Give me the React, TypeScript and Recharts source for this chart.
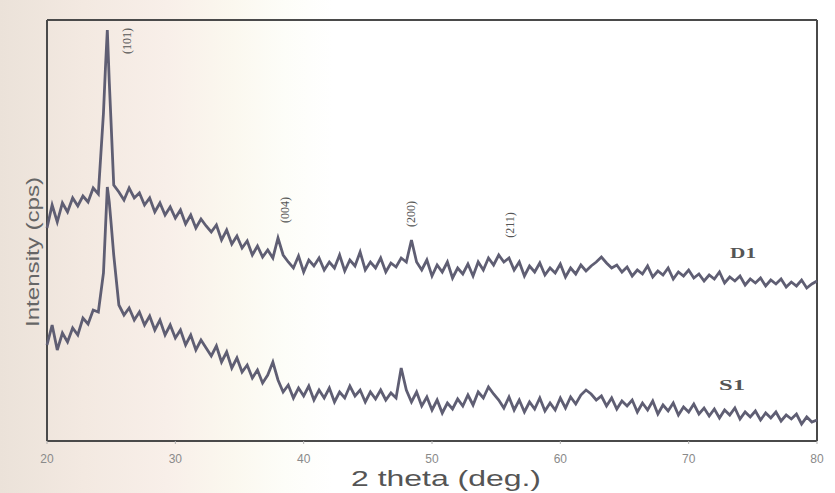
import React from 'react';
import { LineChart, Line, XAxis, YAxis, ReferenceDot, ReferenceLine, Label } from 'recharts';

// 2 theta angles (deg.)
const ANGLES = [
  20.0, 20.4, 20.8, 21.2, 21.6, 22.0, 22.4, 22.8, 23.2, 23.6, 24.0, 24.4,
  24.55, 24.7, 24.85, 25.0, 25.2,
  25.6, 26.0, 26.4, 26.8, 27.2, 27.6, 28.0, 28.4, 28.8, 29.2, 29.6,
  30.0, 30.4, 30.8, 31.2, 31.6, 32.0, 32.4, 32.8, 33.2, 33.6, 34.0, 34.4, 34.8, 35.2, 35.6, 36.0, 36.4, 36.8, 37.2, 37.6, 38.0, 38.4, 38.8, 39.2, 39.6,
  40.0, 40.4, 40.8, 41.2, 41.6, 42.0, 42.4, 42.8, 43.2, 43.6, 44.0, 44.4, 44.8, 45.2, 45.6, 46.0, 46.4, 46.8, 47.2, 47.6, 48.0, 48.4, 48.8, 49.2, 49.6,
  50.0, 50.4, 50.8, 51.2, 51.6, 52.0, 52.4, 52.8, 53.2, 53.6, 54.0, 54.4, 54.8, 55.2, 55.6, 56.0, 56.4, 56.8, 57.2, 57.6, 58.0, 58.4, 58.8, 59.2, 59.6,
  60.0, 60.4, 60.8, 61.2, 61.6, 62.0, 62.4, 62.8, 63.2, 63.6, 64.0, 64.4, 64.8, 65.2, 65.6, 66.0, 66.4, 66.8, 67.2, 67.6, 68.0, 68.4, 68.8, 69.2, 69.6,
  70.0, 70.4, 70.8, 71.2, 71.6, 72.0, 72.4, 72.8, 73.2, 73.6, 74.0, 74.4, 74.8, 75.2, 75.6, 76.0, 76.4, 76.8, 77.2, 77.6, 78.0, 78.4, 78.8, 79.2, 79.6,
  80.0,
];

// Intensity (cps), sample D1
const D1 = [
  213, 236, 219, 238, 229, 243, 235, 245, 239, 253, 247, 328,
  372, 411, 360, 316, 256,
  249, 241, 253, 243, 248, 236, 243, 229, 238, 226, 234,
  223, 231, 217, 226, 213, 222, 215, 209, 216, 201, 211, 197, 205, 193, 200, 186, 195, 184, 191, 183, 203, 186, 179, 173, 185,
  169, 181, 175, 183, 171, 179, 173, 186, 170, 181, 175, 189, 171, 179, 173, 183, 169, 178, 174, 183, 179, 201, 179, 171, 181,
  165, 176, 169, 179, 163, 173, 167, 177, 165, 179, 171, 183, 176, 186, 179, 183, 171, 179, 165, 175, 169, 178, 166, 173, 168,
  177, 164, 173, 167, 176, 170, 175, 179, 184, 178, 173, 176, 169, 174, 165, 171, 167, 175, 164, 170, 166, 173, 162, 169, 165,
  171, 163, 167, 160, 166, 162, 169, 158, 164, 160, 165, 156, 162, 158, 163, 155, 161, 157, 162, 154, 159, 155, 161, 153, 157,
  160,
];

// Intensity (cps), sample S1
const S1 = [
  96, 116, 91, 108, 99, 113, 106, 123, 117, 131, 129, 168,
  211, 254, 239, 217, 186,
  136, 126, 133, 121, 129, 116, 125, 111, 121, 106, 116,
  103, 111, 96, 106, 91, 101, 93, 85, 95, 79, 89, 73, 83, 69, 76, 63, 71, 58, 66, 79, 61, 49, 56, 43, 53,
  45, 55, 41, 51, 43, 53, 39, 49, 43, 55, 45, 51, 39, 49, 42, 51, 41, 48, 43, 73, 51, 39, 49, 35, 44,
  31, 41, 28, 38, 32, 42, 35, 46, 36, 49, 43, 54, 47, 41, 33, 44, 31, 41, 29, 39, 32, 43, 30, 38, 31,
  43, 33, 44, 37, 46, 51, 47, 41, 45, 35, 43, 32, 40, 35, 41, 29, 38, 31, 40, 27, 36, 30, 38, 26, 34,
  29, 37, 27, 33, 25, 32, 23, 31, 26, 33, 22, 29, 24, 30, 21, 28, 23, 29, 20, 26, 22, 27, 17, 24, 19,
  21,
];

const X_TICKS = [20, 30, 40, 50, 60, 70, 80];
const X_DOMAIN = [20, 80];
const Y_DOMAIN = [0, 421];

const PEAK_NAMES = ['(101)', '(004)', '(200)', '(211)'];
const PEAK_X = [26.2, 38.55, 48.36, 56.08];
const PEAK_Y = [400, 231, 227, 216];

const SAMPLE_NAMES = ['D1', 'S1'];
const SAMPLE_X = [74.24, 73.38];
const SAMPLE_Y = [188, 56];

const Y_TITLE = 'Intensity (cps)';
const Y_TITLE_POS = { x: 19.4, y: 189 };

const data = ANGLES.map((x, i) => ({ x, d1: D1[i], s1: S1[i] }));

const LINE_COLOR = '#5f5e73';
const FRAME = '#4a4a4a';

const peakShape = (text: string) => (p: any) => (
  <text
    x={p.cx}
    y={p.cy}
    transform={`rotate(-90 ${p.cx} ${p.cy})`}
    textAnchor="middle"
    dominantBaseline="central"
    fontFamily="'Liberation Serif', serif"
    fontSize={12}
    fill="#555"
  >
    {text}
  </text>
);

const sampleShape = (text: string) => (p: any) => (
  <text
    x={p.cx}
    y={p.cy}
    textAnchor="middle"
    dominantBaseline="central"
    fontFamily="'Liberation Serif', serif"
    fontSize={15}
    fontWeight="bold"
    fill="#555"
    textLength={26}
    lengthAdjust="spacingAndGlyphs"
  >
    {text}
  </text>
);

const yTitleShape = (p: any) => (
  <text
    x={p.cx}
    y={p.cy}
    transform={`rotate(-90 ${p.cx} ${p.cy})`}
    textAnchor="middle"
    fontFamily="'Liberation Sans', Arial, sans-serif"
    fontSize={19}
    fill="#666"
    textLength={150}
    lengthAdjust="spacingAndGlyphs"
  >
    {Y_TITLE}
  </text>
);

const XLabel = (props: any) => {
  const vb = props.viewBox || { x: 47, y: 441, width: 770 };
  const cx = vb.x + vb.width / 2 + 14;
  return (
    <text
      x={cx}
      y={vb.y + 45}
      textAnchor="middle"
      fontFamily="'Liberation Sans', Arial, sans-serif"
      fontSize={22}
      fill="#555"
      textLength={190}
      lengthAdjust="spacingAndGlyphs"
    >
      2 theta (deg.)
    </text>
  );
};

export default function App() {
  return (
    <div
      style={{
        position: 'absolute',
        left: 0,
        top: 0,
        width: 835,
        height: 493,
        background:
          'linear-gradient(to right, #ebe2d9 0%, #f3e9e1 10%, #f8efe9 20%, #fbf8ef 28%, #fdfdf8 34%, #ffffff 40%, #ffffff 100%)',
      }}
    >
      <LineChart
        width={835}
        height={493}
        data={data}
        margin={{ top: 20, right: 18, left: 47, bottom: 0 }}
      >
        <XAxis
          dataKey="x"
          type="number"
          domain={X_DOMAIN}
          ticks={X_TICKS}
          height={52}
          axisLine={{ stroke: FRAME, strokeWidth: 2 }}
          tickLine={{ stroke: '#b0b0b0' }}
          tickSize={3}
          tickMargin={10}
          tick={{ fill: '#8a8a8a', fontSize: 12, fontFamily: "'Liberation Sans', Arial, sans-serif" }}
        >
          <Label content={<XLabel />} />
        </XAxis>
        <YAxis type="number" domain={Y_DOMAIN} allowDataOverflow hide />
        <ReferenceLine x={X_DOMAIN[0]} stroke={FRAME} strokeWidth={2} ifOverflow="visible" />
        <ReferenceLine x={X_DOMAIN[1]} stroke={FRAME} strokeWidth={2} ifOverflow="visible" />
        <ReferenceLine y={Y_DOMAIN[1]} stroke={FRAME} strokeWidth={2} ifOverflow="visible" />
        <Line
          type="linear"
          dataKey="d1"
          stroke={LINE_COLOR}
          strokeWidth={2.8}
          dot={false}
          isAnimationActive={false}
        />
        <Line
          type="linear"
          dataKey="s1"
          stroke={LINE_COLOR}
          strokeWidth={2.8}
          dot={false}
          isAnimationActive={false}
        />
        {PEAK_NAMES.map((n, i) => (
          <ReferenceDot
            key={n}
            x={PEAK_X[i]}
            y={PEAK_Y[i]}
            r={1}
            ifOverflow="visible"
            shape={peakShape(n)}
          />
        ))}
        {SAMPLE_NAMES.map((n, i) => (
          <ReferenceDot
            key={n}
            x={SAMPLE_X[i]}
            y={SAMPLE_Y[i]}
            r={1}
            ifOverflow="visible"
            shape={sampleShape(n)}
          />
        ))}
        <ReferenceDot
          x={Y_TITLE_POS.x}
          y={Y_TITLE_POS.y}
          r={1}
          ifOverflow="visible"
          shape={yTitleShape}
        />
      </LineChart>
    </div>
  );
}
